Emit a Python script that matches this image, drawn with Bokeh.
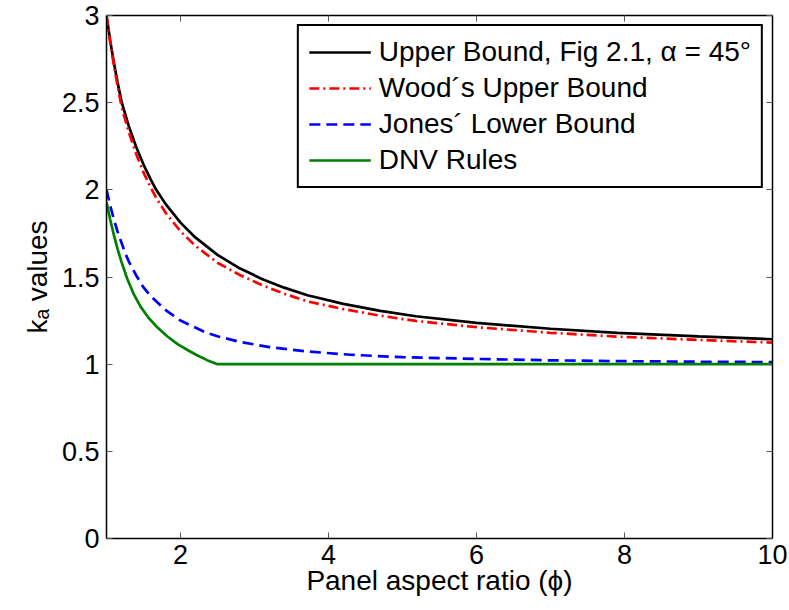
from bokeh.plotting import figure
from bokeh.models import Range1d, LinearAxis, FixedTicker, Legend, LegendItem
from bokeh.embed import file_html
from bokeh.resources import INLINE

# ---- data ----
phi_upper = [1.0, 1.05, 1.1, 1.15, 1.207, 1.3, 1.4, 1.5, 1.6, 1.672, 1.8, 2.0, 2.2,
             2.5, 2.8, 3.1, 3.4, 3.716, 4.2, 4.7, 5.18, 6.0, 7.0, 7.9, 9.0, 10.0]
k_upper = [3.00, 2.856, 2.729, 2.615, 2.50, 2.367, 2.247, 2.145, 2.057, 2.00, 1.918,
           1.812, 1.727, 1.627, 1.55, 1.489, 1.439, 1.395, 1.346, 1.306, 1.275, 1.237,
           1.203, 1.18, 1.159, 1.143]

phi_wood = [1.0, 1.05, 1.1, 1.15, 1.207, 1.3, 1.4, 1.5, 1.6, 1.672, 1.8, 2.0, 2.2,
            2.5, 2.8, 3.1, 3.4, 3.716, 4.2, 4.7, 5.18, 6.0, 7.0, 7.9, 9.0, 10.0]
k_wood = [3.00, 2.846, 2.714, 2.595, 2.47, 2.332, 2.207, 2.10, 2.012, 1.953, 1.868,
          1.762, 1.679, 1.582, 1.512, 1.454, 1.404, 1.36, 1.316, 1.278, 1.248, 1.212,
          1.18, 1.158, 1.139, 1.124]

phi_jones = [1.0, 1.05, 1.1, 1.15, 1.2, 1.25, 1.3, 1.4, 1.5, 1.6, 1.7, 1.8, 1.9, 2.0,
             2.2, 2.35, 2.5, 2.8, 3.2, 3.7, 4.3, 5.0, 6.0, 7.0, 8.0, 9.0, 10.0]
k_jones = [2.00, 1.91, 1.83, 1.76, 1.70, 1.64, 1.59, 1.51, 1.44, 1.39, 1.35, 1.31, 1.28,
           1.25, 1.21, 1.18, 1.16, 1.128, 1.098, 1.073, 1.054, 1.04, 1.03, 1.022, 1.017,
           1.014, 1.012]

phi_dnv = [1.0, 1.05, 1.1, 1.15, 1.2, 1.28, 1.37, 1.46, 1.57, 1.69, 1.82, 1.96, 2.1,
           2.23, 2.36, 2.5, 10.0]
k_dnv = [1.93, 1.83, 1.74, 1.66, 1.59, 1.49, 1.40, 1.33, 1.265, 1.21, 1.16, 1.115, 1.08,
         1.05, 1.023, 1.0, 1.0]

labels = ["Upper Bound, Fig 2.1, \u03b1 = 45\u00b0", "Wood\u00b4s Upper Bound",
          "Jones\u00b4 Lower Bound", "DNV Rules"]
x_ticks = [2, 4, 6, 8, 10]
y_ticks = [0, 0.5, 1, 1.5, 2, 2.5, 3]
y_tick_labels = ["0", "0.5", "1", "1.5", "2", "2.5", "3"]

FONT = "Liberation Sans"
FS = "27px"
W, H = 787, 604

p = figure(width=W, height=H, output_backend="svg", toolbar_location=None,
           x_range=Range1d(1, 10), y_range=Range1d(0, 3),
           min_border_left=106, min_border_top=15, min_border_right=W - 772,
           min_border_bottom=H - 538)
p.grid.visible = False
p.outline_line_color = None
p.background_fill_color = "white"
p.border_fill_color = "white"

r1 = p.line(phi_upper, k_upper, line_color="black", line_width=2.7)
r2 = p.line(phi_wood, k_wood, line_color="red", line_width=2.7, line_dash="10 4 2 4")
r3 = p.line(phi_jones, k_jones, line_color="blue", line_width=2.7, line_dash="11 6")
r4 = p.line(phi_dnv, k_dnv, line_color="green", line_width=2.7)

TICK_COLOR = "#555555"


def style_main_axis(ax):
    ax.axis_line_color = "black"
    ax.axis_line_width = 1.5
    ax.major_tick_in = 6
    ax.major_tick_out = 0
    ax.major_tick_line_color = TICK_COLOR
    ax.minor_tick_line_color = None
    ax.major_label_text_font = FONT
    ax.major_label_text_font_size = FS
    ax.major_label_text_color = "black"
    ax.axis_label_text_font = FONT
    ax.axis_label_text_font_size = "28px"
    ax.axis_label_text_font_style = "normal"
    ax.axis_label_text_color = "black"


def frame_axis(ticks):
    ax = LinearAxis(ticker=FixedTicker(ticks=[], minor_ticks=ticks))
    ax.axis_line_color = "black"
    ax.axis_line_width = 1.5
    ax.major_tick_line_color = None
    ax.minor_tick_in = 6
    ax.minor_tick_out = 0
    ax.minor_tick_line_color = TICK_COLOR
    ax.major_label_standoff = 0
    ax.axis_label = None
    return ax


xax = p.xaxis[0]
yax = p.yaxis[0]
xax.ticker = FixedTicker(ticks=x_ticks)
yax.ticker = FixedTicker(ticks=y_ticks)
yax.major_label_overrides = {t: l for t, l in zip(y_ticks, y_tick_labels)}
xax.axis_label = "Panel aspect ratio (\u03d5)"
yax.axis_label = "k\u2090 values"
style_main_axis(xax)
style_main_axis(yax)
xax.major_label_standoff = 6
yax.major_label_standoff = 7
xax.axis_label_standoff = -2
yax.axis_label_standoff = 6

p.add_layout(frame_axis(x_ticks), "above")
p.add_layout(frame_axis(y_ticks), "right")

legend = Legend(items=[LegendItem(label=labels[0], renderers=[r1]),
                       LegendItem(label=labels[1], renderers=[r2]),
                       LegendItem(label=labels[2], renderers=[r3]),
                       LegendItem(label=labels[3], renderers=[r4])],
                location="top_right")
legend.margin = 9
legend.padding = 10
legend.spacing = 4
legend.label_height = 30
legend.glyph_height = 30
legend.glyph_width = 62
legend.label_standoff = 8
legend.label_text_font = FONT
legend.label_text_font_size = "28px"
legend.label_text_color = "black"
legend.border_line_color = "black"
legend.border_line_alpha = 1.0
legend.border_line_width = 2.5
legend.background_fill_color = "white"
legend.background_fill_alpha = 1.0
p.add_layout(legend)

open("out.html", "w").write(file_html(p, INLINE))
